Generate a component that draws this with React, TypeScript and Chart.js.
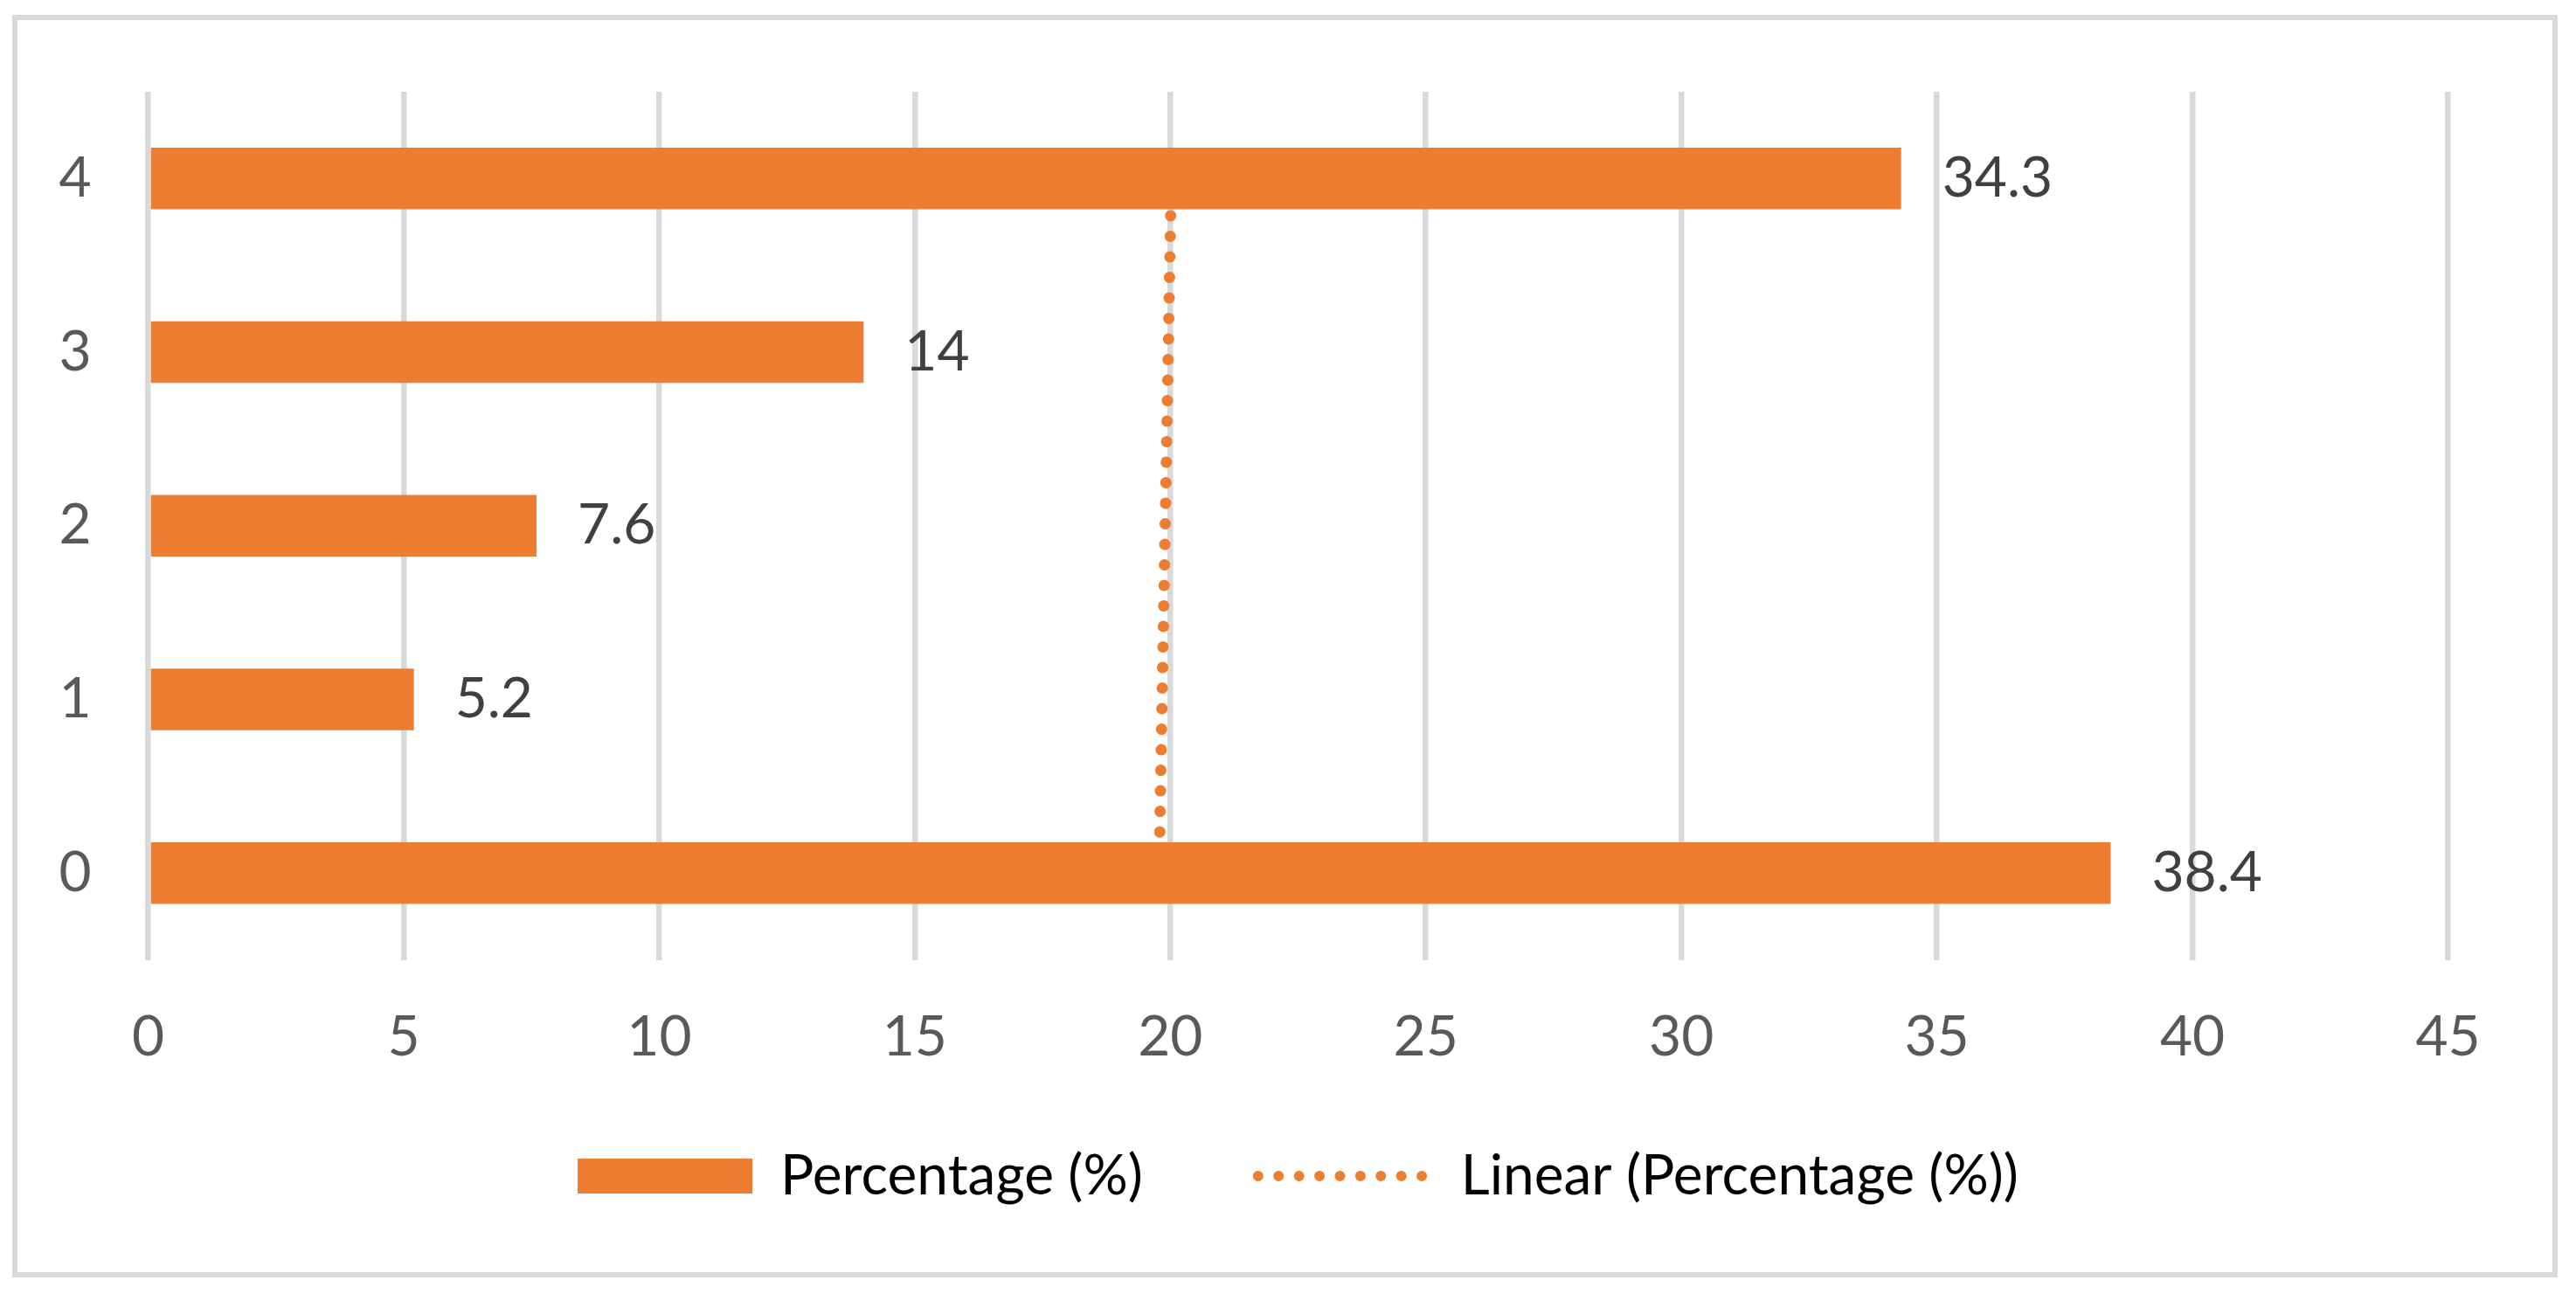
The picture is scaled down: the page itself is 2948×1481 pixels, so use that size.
import { useEffect, useRef } from "react";
import { Chart, ChartConfiguration, Plugin } from "chart.js/auto";

const categories = ["0", "1", "2", "3", "4"];
const percentages = [38.4, 5.2, 7.6, 14, 34.3];
// linear trend line end points
const trendCategories = ["0", "4"];
const trendValues = [19.78, 20.02];
const xTickValues = [0, 5, 10, 15, 20, 25, 30, 35, 40, 45];

const ORANGE = "#ED7D31";
const GRID = "#D9D9D9";
const TEXT = "#595959";
const LABEL = "#404040";
const FONT = { family: "Lato", size: 64 };

// value labels to the right of each bar
const barValueLabels: Plugin = {
  id: "barValueLabels",
  afterDatasetsDraw(chart) {
    const ctx = chart.ctx;
    const meta = chart.getDatasetMeta(0);
    ctx.save();
    ctx.font = `${FONT.size}px ${FONT.family}`;
    ctx.fillStyle = LABEL;
    ctx.textAlign = "left";
    ctx.textBaseline = "middle";
    meta.data.forEach((bar, i) => {
      ctx.fillText(String(percentages[i]), bar.x + 47, bar.y);
    });
    ctx.restore();
  },
};

// Excel centres the legend under the plot area and sits it closer to the axis
const legendPlacement: Plugin = {
  id: "legendPlacement",
  afterLayout(chart) {
    const lg = chart.legend as any;
    const area = chart.chartArea;
    if (!lg || !area) return;
    const dx = (area.left + area.right) / 2 - (lg.left + lg.right) / 2;
    lg.left += dx;
    lg.right += dx;
    lg.top -= 56.5;
    lg.bottom -= 56.5;
  },
};

export default function App() {
  const canvasRef = useRef<HTMLCanvasElement>(null);
  const chartRef = useRef<Chart | null>(null);

  useEffect(() => {
    if (!canvasRef.current) return;
    let cancelled = false;

    const config: ChartConfiguration = {
      type: "bar",
      data: {
        labels: categories,
        datasets: [
          {
            type: "bar",
            label: "Percentage (%)",
            data: percentages,
            backgroundColor: ORANGE,
            borderWidth: 0,
            barPercentage: 0.355,
            categoryPercentage: 1,
            order: 0,
          },
          {
            type: "line",
            label: "Linear (Percentage (%))",
            data: trendCategories.map((c, i) => ({ x: trendValues[i], y: c })) as any,
            indexAxis: "y",
            borderColor: ORANGE,
            borderWidth: 13,
            borderDash: [0.01, 23.5],
            borderCapStyle: "round",
            pointRadius: 0,
            fill: false,
            order: 1,
          } as any,
        ],
      },
      options: {
        indexAxis: "y",
        animation: false,
        responsive: false,
        layout: { padding: { left: 0, right: 119.5, top: 82, bottom: 11.5 } },
        scales: {
          x: {
            type: "linear",
            min: 0,
            max: 45,
            afterBuildTicks: (scale) => {
              scale.ticks = xTickValues.map(value => ({ value }));
            },
            afterFit: (scale) => {
              scale.height = 140;
            },
            grid: { color: GRID, lineWidth: 6.5, drawTicks: false },
            border: { display: false },
            ticks: { color: TEXT, font: FONT, padding: 50, maxRotation: 0 },
          },
          y: {
            type: "category",
            reverse: true,
            offset: true,
            afterFit: (scale: any) => {
              scale.width = 149.5;
              // the label padding should not push the plot area down
              scale.paddingTop = 0;
              scale.paddingBottom = 0;
            },
            grid: { display: false, drawTicks: false },
            border: { display: false },
            ticks: { color: TEXT, font: FONT, padding: 65 },
          },
        },
        plugins: {
          tooltip: { enabled: false },
          legend: {
            position: "bottom",
            labels: {
              usePointStyle: true,
              pointStyleWidth: 200,
              boxHeight: 40,
              padding: 132,
              color: TEXT,
              font: FONT,
              generateLabels: () => [
                {
                  text: "Percentage (%)",
                  fillStyle: ORANGE,
                  strokeStyle: ORANGE,
                  lineWidth: 0,
                  pointStyle: "rect",
                  datasetIndex: 0,
                  hidden: false,
                },
                {
                  text: "Linear (Percentage (%))",
                  fillStyle: "rgba(0,0,0,0)",
                  strokeStyle: ORANGE,
                  lineWidth: 12,
                  lineDash: [0.01, 23.4],
                  lineCap: "round",
                  pointStyle: "line",
                  datasetIndex: 1,
                  hidden: false,
                },
              ],
            },
          },
        },
      },
      plugins: [barValueLabels, legendPlacement],
    };

    document.fonts.load(`${FONT.size}px ${FONT.family}`).finally(() => {
      if (cancelled || !canvasRef.current) return;
      if (chartRef.current) chartRef.current.destroy();
      chartRef.current = new Chart(canvasRef.current, config);
    });

    return () => {
      cancelled = true;
      if (chartRef.current) {
        chartRef.current.destroy();
        chartRef.current = null;
      }
    };
  }, []);

  return (
    <div
      style={{
        position: "absolute",
        left: 14,
        top: 17,
        width: 2913,
        height: 1445,
        boxSizing: "border-box",
        border: "6px solid #D9D9D9",
        background: "#fff",
      }}
    >
      <canvas ref={canvasRef} width={2901} height={1433} style={{ display: "block" }} />
    </div>
  );
}
